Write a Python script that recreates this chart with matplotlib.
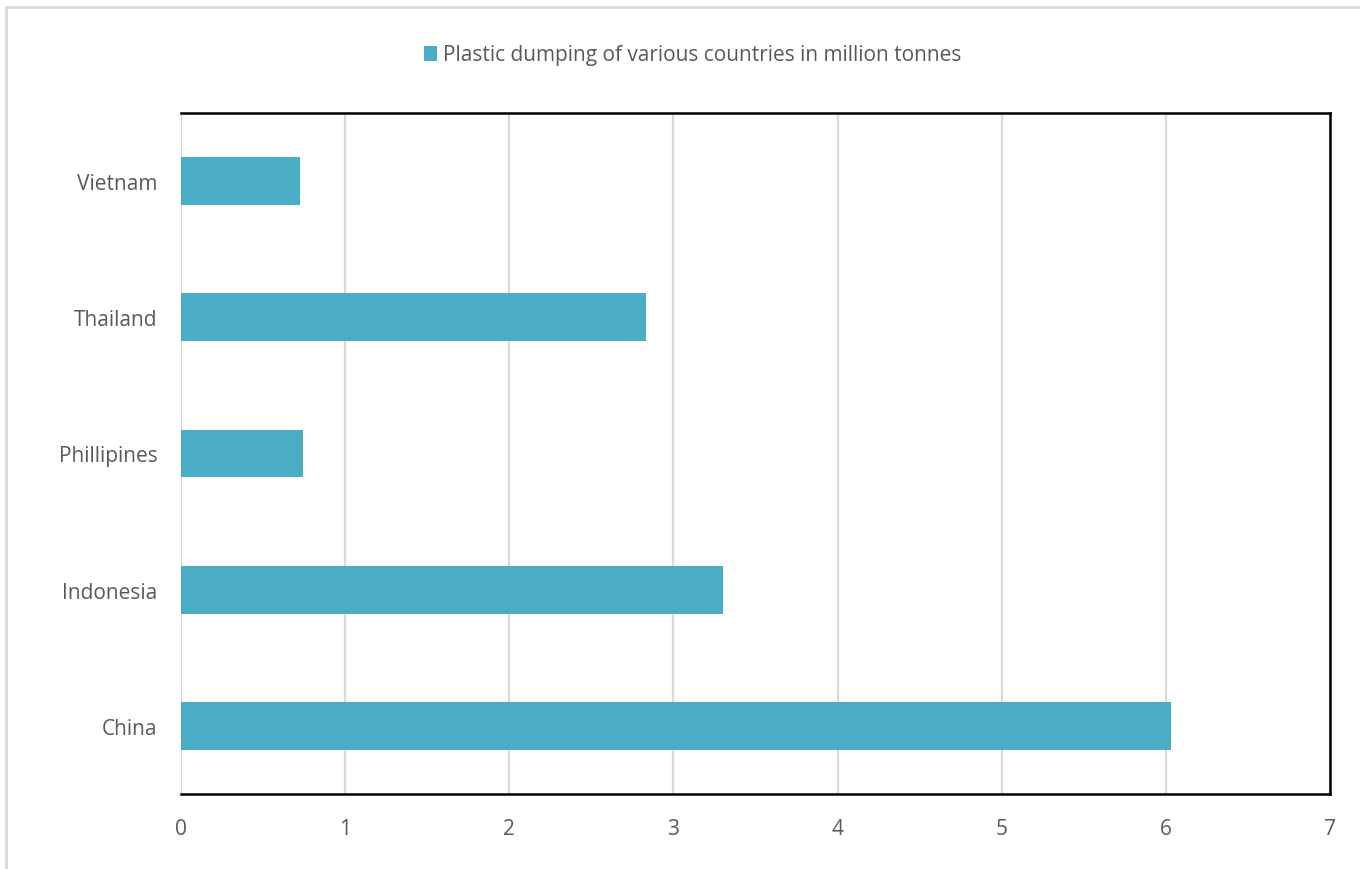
import matplotlib.pyplot as plt
from matplotlib.patches import Rectangle

countries = ['China', 'Indonesia', 'Phillipines', 'Thailand', 'Vietnam']
dumping = [6.03, 3.30, 0.745, 2.83, 0.725]
series_name = 'Plastic dumping of various countries in million tonnes'

plt.rcParams['font.family'] = ['Open Sans', 'DejaVu Sans']
text_color = '#595959'
bar_color = '#4bacc6'

fig = plt.figure(figsize=(13.6, 8.7), dpi=100)
ax = fig.add_axes([181 / 1360, 1 - 795 / 870, (1330 - 181) / 1360, (795 - 114) / 870])

# light outer border of the chart area
fig.patches.append(Rectangle((6 / 1360, -0.01), 1.02, 1 - 8 / 870 + 0.01, transform=fig.transFigure,
                             fill=False, edgecolor='#d9d9d9', linewidth=2))

ax.barh(countries, dumping, height=0.35, color=bar_color, label=series_name, zorder=3)

ax.set_xlim(0, 7)
ax.set_ylim(-0.5, len(countries) - 0.5)
ax.set_xticks(range(0, 8))
ax.grid(axis='x', color='#d9d9d9', linewidth=1.6, zorder=0)
ax.tick_params(length=0, labelsize=15, labelcolor=text_color)
ax.tick_params(axis='x', pad=17)
ax.tick_params(axis='y', pad=17)

for side in ['top', 'right', 'bottom']:
    ax.spines[side].set_color('black')
    ax.spines[side].set_linewidth(1.8)
ax.spines['left'].set_visible(False)

leg = fig.legend(loc='center', bbox_to_anchor=(693 / 1360, 1 - 56 / 870), frameon=False,
                 fontsize=15, handlelength=0.6, handleheight=0.7, handletextpad=0.3)
for t in leg.get_texts():
    t.set_color(text_color)

fig.savefig('out.png', dpi=100)
